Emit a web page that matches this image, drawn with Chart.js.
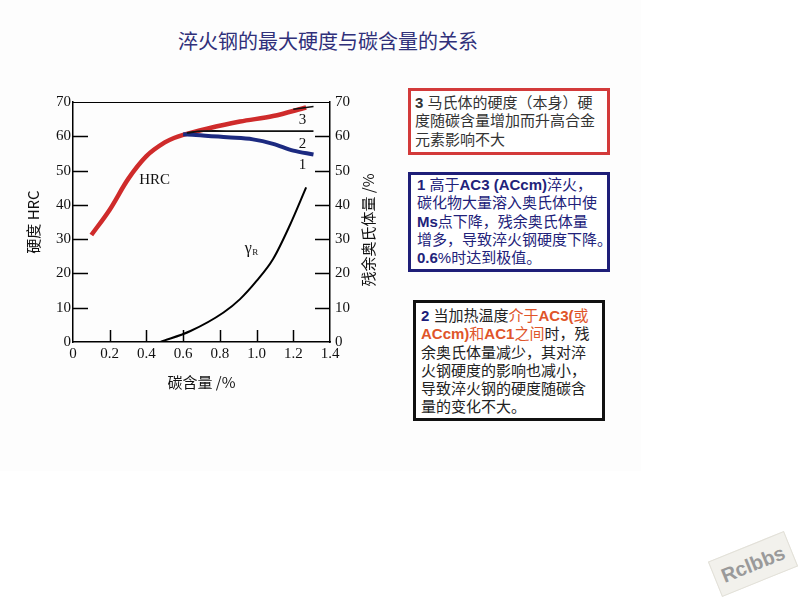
<!DOCTYPE html>
<html>
<head>
<meta charset="utf-8">
<script src="https://cdn.jsdelivr.net/npm/chart.js@4/dist/chart.umd.min.js"></script>
<style>
  body { margin: 0; width: 800px; height: 600px; background: #fff; position: relative; overflow: hidden;
         font-family: "Liberation Sans", "Noto Sans CJK SC", sans-serif; }
  #slide { position: absolute; left: 0; top: 0; width: 641px; height: 471px; background: #fdfdfd; }
  #title { position: absolute; left: 178px; top: 29px; font-size: 20px; line-height: 24px; color: #30307a;
           font-family: "Noto Sans CJK SC", sans-serif; white-space: nowrap; }
  #chartWrap { position: absolute; left: 0; top: 0; width: 400px; height: 400px; }
  .note { position: absolute; box-sizing: border-box; font-size: 15px; line-height: 18.3px; white-space: nowrap; background: #fff; }
  #note3 { left: 408px; top: 88px; width: 202px; height: 67px; border: 3px solid #d33a3a; padding: 3px 4px; color: #333; }
  #note1 { left: 408px; top: 172px; width: 202px; height: 100px; border: 3px solid #1e1e78; padding: 1px 6px; color: #22227a; }
  #note2 { left: 413px; top: 300px; width: 192px; height: 121px; border: 3px solid #111; padding: 4px 5px; color: #222; }
  b { font-weight: bold; }
  .org { color: #e0552a; }
  .nv { color: #1d1d7a; }
  #mark { position: absolute; left: 712px; top: 545px; width: 80px; height: 36px; background: #f2f1ec; border: 1px solid #e2e0d8;
          transform: rotate(-22deg); color: #9a9a9a; font: bold 20px "Liberation Sans", sans-serif; text-align: center; line-height: 36px; }
</style>
</head>
<body>
<div id="slide"></div>
<div id="title">淬火钢的最大硬度与碳含量的关系</div>
<div id="chartWrap"><canvas id="c" width="400" height="400"></canvas></div>

<div class="note" id="note3"><b>3</b> 马氏体的硬度（本身）硬<br>度随碳含量增加而升高合金<br>元素影响不大</div>
<div class="note" id="note1"><b>1</b> 高于<b>AC3 (ACcm)</b>淬火，<br>碳化物大量溶入奥氏体中使<br><b>Ms</b>点下降，残余奥氏体量<br>增多，导致淬火钢硬度下降。<br><b>0.6</b>%时达到极值。</div>
<div class="note" id="note2"><b class="nv">2</b> 当加热温度<span class="org">介于<b>AC3(</b>或<br><b>ACcm)</b>和<b>AC1</b>之间</span>时，残<br>余奥氏体量减少，其对淬<br>火钢硬度的影响也减小，<br>导致淬火钢的硬度随碳含<br>量的变化不大。</div>

<div id="mark">Rclbbs</div>

<script>
// carbon content (%) vs hardness (HRC)
const hrcX = [0.1, 0.2, 0.3, 0.4, 0.5, 0.55, 0.6, 0.73, 0.91, 1.09, 1.27];
const hrcY = [31.2, 38.6, 47.5, 54.2, 58.2, 59.5, 60.4, 62.2, 64.3, 65.9, 68.4];

// curve 3 (black, flat part) and its top end hidden under the red line
const line3X = [0.62, 0.7, 0.9, 1.1, 1.31];
const line3Y = [61.0, 61.5, 61.5, 61.5, 61.5];
const line3TopX = [1.2, 1.31];
const line3TopY = [67.9, 68.7];

// curve 2 (blue)
const line2X = [0.6, 0.67, 0.84, 0.98, 1.09, 1.2, 1.31];
const line2Y = [60.6, 60.4, 59.7, 59.1, 57.8, 55.8, 54.7];

// retained austenite (%) on right axis
const gammaX = [0.476, 0.64, 0.82, 0.91, 1.0, 1.09, 1.18, 1.27];
const gammaY = [0, 3.2, 8.6, 12.5, 17.8, 24.2, 33.9, 45.1];

const xTicks = [0, 0.2, 0.4, 0.6, 0.8, 1.0, 1.2, 1.4];
const yTicks = [0, 10, 20, 30, 40, 50, 60, 70];

const pts = (xs, ys) => xs.map((x, i) => ({ x: x, y: ys[i] }));

const serif = { family: '"Liberation Serif", "Times New Roman", serif', size: 15 };

// inner ticks, top frame line, curve labels, right axis title
const extras = {
    id: 'extras',
    afterDatasetsDraw(chart) {
        const ctx = chart.ctx;
        const a = chart.chartArea;
        const x = chart.scales.x, y = chart.scales.y, y1 = chart.scales.y1;
        ctx.save();
        ctx.strokeStyle = '#000';
        ctx.lineWidth = 1;
        ctx.beginPath();
        ctx.moveTo(a.left, a.top + 0.5);
        ctx.lineTo(a.right, a.top + 0.5);
        ctx.stroke();
        ctx.lineWidth = 1.5;
        yTicks.slice(1, -1).forEach(v => {
            const py = Math.round(y.getPixelForValue(v)) + 0.5;
            ctx.beginPath(); ctx.moveTo(a.left, py); ctx.lineTo(a.left + 15, py); ctx.stroke();
            const py1 = Math.round(y1.getPixelForValue(v)) + 0.5;
            ctx.beginPath(); ctx.moveTo(a.right - 15, py1); ctx.lineTo(a.right, py1); ctx.stroke();
        });
        xTicks.slice(1, -1).forEach(v => {
            const px = Math.round(x.getPixelForValue(v)) + 0.5;
            ctx.beginPath(); ctx.moveTo(px, a.bottom); ctx.lineTo(px, a.bottom - 12); ctx.stroke();
        });

        ctx.fillStyle = '#111';
        ctx.font = '15px "Liberation Serif", serif';
        ctx.textAlign = 'center';
        ctx.textBaseline = 'middle';
        ctx.fillText('HRC', x.getPixelForValue(0.445), y.getPixelForValue(47.1));
        ctx.fillText('3', x.getPixelForValue(1.25), y.getPixelForValue(64.6));
        ctx.fillText('2', x.getPixelForValue(1.25), y.getPixelForValue(57.6));
        ctx.fillText('1', x.getPixelForValue(1.25), y.getPixelForValue(51.5));
        const gx = x.getPixelForValue(0.955), gy = y1.getPixelForValue(27.3);
        ctx.font = '16px "Liberation Serif", serif';
        ctx.fillText('γ', gx, gy);
        ctx.font = '9px "Liberation Serif", serif';
        ctx.fillText('R', gx + 7, gy + 4);

        ctx.font = '15px "Noto Sans CJK SC", sans-serif';
        ctx.translate(368, 230);
        ctx.rotate(-Math.PI / 2);
        ctx.fillText('残余奥氏体量 /%', 0, 0);
        ctx.restore();
    }
};

new Chart(document.getElementById('c').getContext('2d'), {
    type: 'scatter',
    data: {
        datasets: [
            { label: '3', data: pts(line3X, line3Y), showLine: true, borderColor: '#111', borderWidth: 1.8, pointRadius: 0, tension: 0.3, yAxisID: 'y' },
            { label: '3top', data: pts(line3TopX, line3TopY), showLine: true, borderColor: '#111', borderWidth: 1.5, pointRadius: 0, yAxisID: 'y' },
            { label: '2', data: pts(line2X, line2Y), showLine: true, borderColor: '#1c2a80', borderWidth: 4, pointRadius: 0, cubicInterpolationMode: 'monotone', yAxisID: 'y' },
            { label: 'HRC', data: pts(hrcX, hrcY), showLine: true, borderColor: '#cf2b2b', borderWidth: 4.5, pointRadius: 0, cubicInterpolationMode: 'monotone', yAxisID: 'y' },
            { label: 'γR', data: pts(gammaX, gammaY), showLine: true, borderColor: '#000', borderWidth: 2, pointRadius: 0, cubicInterpolationMode: 'monotone', yAxisID: 'y1' }
        ]
    },
    options: {
        responsive: false,
        animation: false,
        layout: { padding: { left: 24, top: 102, right: 30, bottom: 9 } },
        plugins: { legend: { display: false }, tooltip: { enabled: false } },
        scales: {
            x: {
                type: 'linear', min: 0, max: 1.4,
                afterFit: s => { s.height = 49; },
                afterBuildTicks: s => { s.ticks = xTicks.map(v => ({ value: v })); },
                ticks: { font: serif, color: '#111', padding: 3, maxRotation: 0,
                         callback: v => v === 0 ? '0' : v.toFixed(1) },
                grid: { display: true, drawOnChartArea: false, drawTicks: false },
                border: { display: true, color: '#000', width: 1.5 },
                title: { display: true, text: '碳含量 /%', color: '#111', padding: 0,
                         font: { family: '"Noto Sans CJK SC", sans-serif', size: 15 } }
            },
            y: {
                position: 'left', min: 0, max: 70,
                afterFit: s => { s.width = 49; },
                afterBuildTicks: s => { s.ticks = yTicks.map(v => ({ value: v })); },
                ticks: { font: serif, color: '#111', padding: 2 },
                grid: { display: true, drawOnChartArea: false, drawTicks: false },
                border: { display: true, color: '#000', width: 1.5 },
                title: { display: true, text: '硬度 HRC', color: '#111', padding: 0,
                         font: { family: '"Noto Sans CJK SC", sans-serif', size: 15 } }
            },
            y1: {
                position: 'right', min: 0, max: 70,
                afterFit: s => { s.width = 40; },
                afterBuildTicks: s => { s.ticks = yTicks.map(v => ({ value: v })); },
                ticks: { font: serif, color: '#111', padding: 5 },
                grid: { display: true, drawOnChartArea: false, drawTicks: false },
                border: { display: true, color: '#000', width: 1.5 }
            }
        }
    },
    plugins: [extras]
});
</script>
</body>
</html>
